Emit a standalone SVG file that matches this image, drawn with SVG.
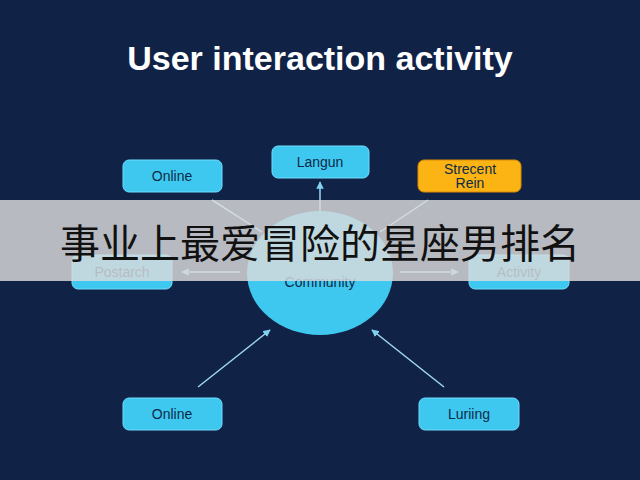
<svg xmlns="http://www.w3.org/2000/svg" width="640" height="480" viewBox="0 0 640 480">
<defs>
<marker id="ah" viewBox="0 0 10 10" refX="9" refY="5" markerWidth="5" markerHeight="5" orient="auto-start-reverse"><path d="M0,0L10,5L0,10z" fill="#7fd3f0"/></marker>
<style>
.n{fill:#3ec8ef;stroke:#6fdcff;stroke-width:1}
.t{font-family:"Liberation Sans",Arial,sans-serif;font-size:14px;fill:#0d2a4a;text-anchor:middle}
.c{stroke:#9fd9ee;stroke-width:1.5;fill:none}
</style>
</defs>
<rect width="640" height="480" fill="#112247"/>
<text x="320" y="70" font-family="Liberation Sans,Arial,sans-serif" font-size="34" font-weight="bold" fill="#ffffff" text-anchor="middle">User interaction activity</text>
<g id="connectors">
<line class="c" x1="212" y1="200" x2="262" y2="232"/>
<line class="c" x1="320" y1="182" x2="320" y2="220" marker-start="url(#ah)" marker-end="url(#ah)"/>
<line class="c" x1="428" y1="200" x2="380" y2="232"/>
<line class="c" x1="240" y1="272" x2="182" y2="272" marker-end="url(#ah)"/>
<line class="c" x1="400" y1="272" x2="458" y2="272" marker-end="url(#ah)"/>
<line class="c" x1="198" y1="387" x2="270" y2="330" marker-end="url(#ah)"/>
<line class="c" x1="444" y1="387" x2="372" y2="330" marker-end="url(#ah)"/>
</g>
<g id="community"><ellipse cx="320" cy="273" rx="73" ry="62" fill="#3ec8ef"/><text class="t" x="320" y="287" font-size="16">Community</text></g>
<g id="online1"><rect class="n" x="123" y="160" width="99" height="32" rx="6"/><text class="t" x="172" y="181">Online</text></g>
<g id="langun"><rect class="n" x="272" y="146" width="97" height="32" rx="6"/><text class="t" x="320" y="167">Langun</text></g>
<g id="strecent"><rect x="418" y="160" width="103" height="32" rx="6" fill="#fbb414" stroke="#d98a00"/><text class="t" x="470" y="174" font-size="13">Strecent</text><text class="t" x="470" y="188" font-size="13">Rein</text></g>
<g id="postarch"><rect class="n" x="72" y="255" width="100" height="34" rx="6"/><text class="t" x="122" y="277">Postarch</text></g>
<g id="activity"><rect class="n" x="469" y="255" width="100" height="34" rx="6"/><text class="t" x="519" y="277">Activity</text></g>
<g id="online2"><rect class="n" x="123" y="398" width="99" height="32" rx="6"/><text class="t" x="172" y="419">Online</text></g>
<g id="luriing"><rect class="n" x="419" y="398" width="100" height="32" rx="6"/><text class="t" x="469" y="419">Luriing</text></g>
<rect x="0" y="200" width="640" height="81" fill="#dcdcdc" fill-opacity="0.82"/>
<text x="320" y="258" font-family="Noto Sans CJK SC,sans-serif" font-size="40" fill="#111" text-anchor="middle">事业上最爱冒险的星座男排名</text>
</svg>
